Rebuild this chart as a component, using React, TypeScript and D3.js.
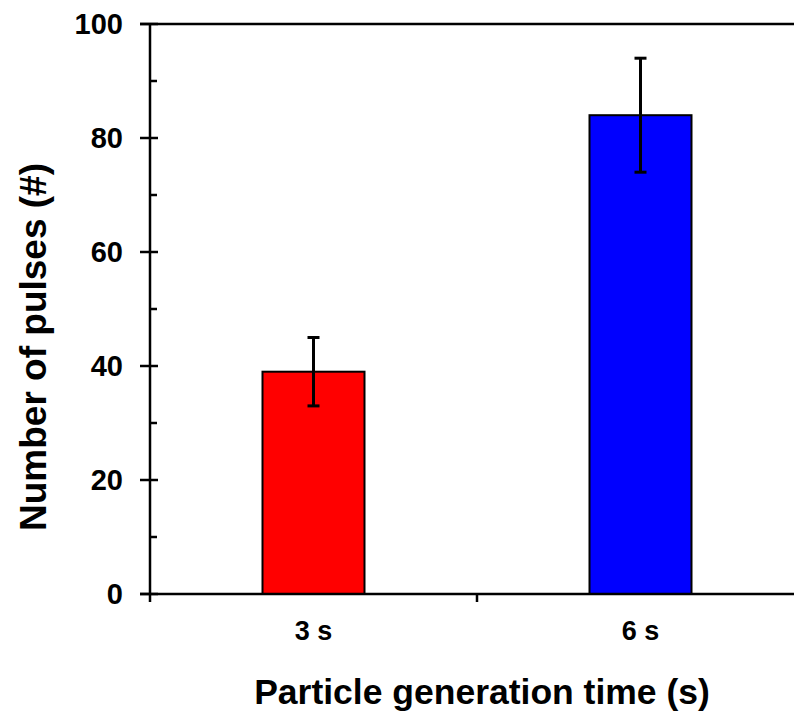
import { useEffect, useRef } from "react";
import * as d3 from "d3";

const CATEGORIES = ["3 s", "6 s"];
const VALUES = [39, 84];
const ERRORS = [6, 10];
const COLORS = ["#ff0000", "#0000ff"];
const Y_TICKS = [0, 20, 40, 60, 80, 100];
const Y_MINOR = [10, 30, 50, 70, 90];

export default function App() {
  const svgRef = useRef<SVGSVGElement>(null);

  useEffect(() => {
    const width = 794;
    const height = 713;
    const left = 150;
    const right = 804;
    const top = 24;
    const bottom = 594;
    const font = "'Liberation Sans', Arial, sans-serif";

    const svg = d3.select(svgRef.current).attr("width", width).attr("height", height);
    svg.selectAll("*").remove();

    const x = d3.scaleBand().domain(CATEGORIES).range([left, right]).paddingInner(0).paddingOuter(0);
    const y = d3.scaleLinear().domain([0, 100]).range([bottom, top]);
    const barW = 102;

    /* Bars */
    CATEGORIES.forEach((c, i) => {
      const cx = x(c)! + x.bandwidth() / 2;
      svg.append("rect")
        .attr("x", cx - barW / 2)
        .attr("y", y(VALUES[i]))
        .attr("width", barW)
        .attr("height", y(0) - y(VALUES[i]))
        .attr("fill", COLORS[i])
        .attr("stroke", "black")
        .attr("stroke-width", 2);
      /* Error bars */
      const g = svg.append("g").attr("stroke", "black").attr("stroke-width", 3);
      g.append("line").attr("x1", cx).attr("x2", cx)
        .attr("y1", y(VALUES[i] + ERRORS[i])).attr("y2", y(VALUES[i] - ERRORS[i]));
      g.append("line").attr("x1", cx - 6).attr("x2", cx + 6)
        .attr("y1", y(VALUES[i] + ERRORS[i])).attr("y2", y(VALUES[i] + ERRORS[i]));
      g.append("line").attr("x1", cx - 6).attr("x2", cx + 6)
        .attr("y1", y(VALUES[i] - ERRORS[i])).attr("y2", y(VALUES[i] - ERRORS[i]));
    });

    const axis = svg.append("g").attr("stroke", "black").attr("stroke-width", 2.5);
    /* Y axis line */
    axis.append("line").attr("x1", left).attr("x2", left).attr("y1", top).attr("y2", bottom + 8);
    /* Top frame */
    axis.append("line").attr("x1", left - 10).attr("x2", width).attr("y1", top).attr("y2", top);
    /* X axis line */
    axis.append("line").attr("x1", left - 10).attr("x2", width).attr("y1", bottom).attr("y2", bottom);
    /* Y ticks */
    Y_TICKS.forEach((t) => {
      axis.append("line").attr("x1", left - 10).attr("x2", left + 8).attr("y1", y(t)).attr("y2", y(t));
    });
    Y_MINOR.forEach((t) => {
      axis.append("line").attr("x1", left).attr("x2", left + 7).attr("y1", y(t)).attr("y2", y(t));
    });
    /* X separator tick */
    axis.append("line").attr("x1", x(CATEGORIES[1])!).attr("x2", x(CATEGORIES[1])!)
      .attr("y1", bottom).attr("y2", bottom + 8);

    /* Y tick labels */
    svg.append("g").selectAll("text").data(Y_TICKS).join("text")
      .attr("x", left - 27)
      .attr("y", (d) => y(d))
      .attr("dy", "0.36em")
      .attr("text-anchor", "end")
      .attr("font-family", font)
      .attr("font-weight", "bold")
      .attr("font-size", 29)
      .text((d) => d);

    /* X tick labels */
    svg.append("g").selectAll("text").data(CATEGORIES).join("text")
      .attr("x", (d) => x(d)! + x.bandwidth() / 2)
      .attr("y", 640)
      .attr("text-anchor", "middle")
      .attr("font-family", font)
      .attr("font-weight", "bold")
      .attr("font-size", 27)
      .text((d) => d);

    /* Axis titles */
    svg.append("text")
      .attr("x", 482)
      .attr("y", 704)
      .attr("text-anchor", "middle")
      .attr("font-family", font)
      .attr("font-weight", "bold")
      .attr("font-size", 35.5)
      .text("Particle generation time (s)");
    svg.append("text")
      .attr("transform", `translate(46,347) rotate(-90)`)
      .attr("text-anchor", "middle")
      .attr("font-family", font)
      .attr("font-weight", "bold")
      .attr("font-size", 37)
      .text("Number of pulses (#)");
  }, []);

  return (
    <div style={{ position: "absolute", left: 0, top: 0 }}>
      <svg ref={svgRef} style={{ display: "block" }}></svg>
    </div>
  );
}
